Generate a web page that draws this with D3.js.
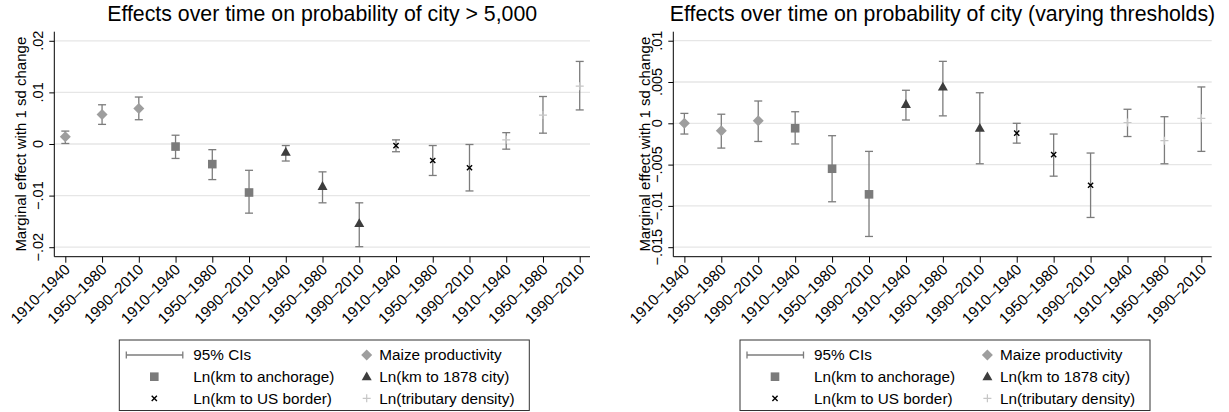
<!DOCTYPE html>
<html>
<head>
<meta charset="utf-8">
<script src="https://cdn.jsdelivr.net/npm/d3@7"></script>
<style>
  body { margin: 0; background: #fff; }
  svg { display: block; font-family: "Liberation Sans", Arial, sans-serif; }
</style>
</head>
<body>
<svg id="chart" width="1229" height="412"></svg>
<script>
// periods repeated for each of the five variables
const periods = ["1910–1940", "1950–1980", "1990–2010"];
const variables = ["Maize productivity", "Ln(km to anchorage)", "Ln(km to 1878 city)",
  "Ln(km to US border)", "Ln(tributary density)"];

// left panel: city > 5,000
const leftEst = [0.0014, 0.0057, 0.0069, -0.0005, -0.0039, -0.0094, -0.0016, -0.0082, -0.0154,
  -0.0003, -0.0032, -0.0046, 0.0008, 0.0056, 0.0112];
const leftLo = [0.0001, 0.0038, 0.0047, -0.0028, -0.0069, -0.0134, -0.0033, -0.0114, -0.0199,
  -0.0015, -0.0061, -0.0091, -0.0010, 0.0021, 0.0066];
const leftHi = [0.0025, 0.0076, 0.0091, 0.0017, -0.0011, -0.0051, -0.0003, -0.0054, -0.0114,
  0.0008, -0.0003, -0.0001, 0.0022, 0.0092, 0.0160];
const leftTicks = [-0.02, -0.01, 0, 0.01, 0.02];
const leftTickLabels = ["−.02", "−.01", "0", ".01", ".02"];

// right panel: varying thresholds
const rightEst = [0.0000, -0.0009, 0.0003, -0.0006, -0.0055, -0.0086, 0.0023, 0.0044, -0.0006,
  -0.0012, -0.0038, -0.0075, 0.0001, -0.0021, 0.0006];
const rightLo = [-0.0013, -0.0030, -0.0022, -0.0025, -0.0095, -0.0137, 0.0004, 0.0009, -0.0049,
  -0.0024, -0.0064, -0.0114, -0.0016, -0.0049, -0.0034];
const rightHi = [0.0012, 0.0011, 0.0027, 0.0014, -0.0015, -0.0034, 0.0040, 0.0075, 0.0037,
  0.0000, -0.0013, -0.0036, 0.0017, 0.0008, 0.0044];
const rightTicks = [-0.015, -0.01, -0.005, 0, 0.005, 0.01];
const rightTickLabels = ["−.015", "−.01", "−.005", "0", ".005", ".01"];

const ciColor = "#7c7c7c";
const markerStyle = [
  { shape: "diamond", fill: "#9e9e9e" },
  { shape: "square", fill: "#7b7b7b" },
  { shape: "triangle", fill: "#3d3d3d" },
  { shape: "x", stroke: "#000" },
  { shape: "plus", stroke: "#c6c6c6" }
];

const svg = d3.select("#chart");

// draw a marker at the origin of g
const drawMarker = (g, style) => {
  if (style.shape === "diamond") {
    g.append("path").attr("d", "M0,-5.5L5.5,0L0,5.5L-5.5,0Z").attr("fill", style.fill);
  } else if (style.shape === "square") {
    g.append("rect").attr("x", -4.3).attr("y", -4.3).attr("width", 8.6).attr("height", 8.6)
      .attr("fill", style.fill);
  } else if (style.shape === "triangle") {
    g.append("path").attr("d", "M0,-5.2L5,3.6L-5,3.6Z").attr("fill", style.fill);
  } else if (style.shape === "x") {
    g.append("path").attr("d", "M-2.6,-2.6L2.6,2.6M-2.6,2.6L2.6,-2.6")
      .attr("stroke", style.stroke).attr("stroke-width", 1.4);
  } else {
    g.append("path").attr("d", "M-4,0L4,0M0,-4L0,4")
      .attr("stroke", style.stroke).attr("stroke-width", 1.2);
  }
};

const drawPanel = (cfg) => {
  const top = 31.7, bottom = 256.7;
  const x = d3.scaleLinear().domain([0.7, 15.28]).range([cfg.x0, cfg.x1]);
  const y = d3.scaleLinear().domain(cfg.yDomain).range([bottom, top]);
  const g = svg.append("g");
  const idx = d3.range(15);

  // title
  g.append("text")
    .attr("x", (cfg.x0 + cfg.x1) / 2).attr("y", 20.5)
    .attr("text-anchor", "middle").attr("font-size", 21.3)
    .text(cfg.title);

  // grid lines
  g.selectAll(".grid").data(cfg.ticks).join("line")
    .attr("class", "grid")
    .attr("x1", cfg.x0).attr("x2", cfg.x1)
    .attr("y1", d => y(d)).attr("y2", d => y(d))
    .attr("stroke", "#e6e6e6").attr("stroke-width", 1.3);

  // y axis
  const yAxis = g.append("g").attr("transform", `translate(${cfg.x0},0)`)
    .call(d3.axisLeft(y).tickValues(cfg.ticks).tickSize(5).tickFormat(""));
  yAxis.select(".domain").attr("d", `M0,${top}V${bottom}`).attr("stroke", "#000");
  yAxis.selectAll(".tick line").attr("stroke", "#000");
  g.selectAll(".ylab").data(cfg.ticks).join("text")
    .attr("class", "ylab")
    .attr("transform", d => `translate(${cfg.x0 - 16.5},${y(d)}) rotate(-90)`)
    .attr("text-anchor", "middle").attr("dy", "0.35em").attr("font-size", 14.5)
    .text((d, i) => cfg.tickLabels[i]);

  g.append("text")
    .attr("transform", `translate(${cfg.titleX},${(top + bottom) / 2}) rotate(-90)`)
    .attr("text-anchor", "middle").attr("dy", "0.35em").attr("font-size", 15)
    .text("Marginal effect with 1 sd change");

  // x axis
  const xAxis = g.append("g").attr("transform", `translate(0,${bottom})`)
    .call(d3.axisBottom(x).tickValues(idx.map(i => i + 1)).tickSize(6).tickFormat(""));
  xAxis.select(".domain").attr("d", `M${cfg.x0},0H${cfg.x1}`).attr("stroke", "#000");
  xAxis.selectAll(".tick line").attr("stroke", "#000");
  g.selectAll(".xlab").data(idx).join("text")
    .attr("class", "xlab")
    .attr("transform", i => `translate(${x(i + 1) + 2},${bottom + 10}) rotate(-45)`)
    .attr("text-anchor", "end").attr("dy", "0.35em").attr("font-size", 15.3)
    .text(i => periods[i % 3]);

  // confidence intervals
  const ci = g.selectAll(".ci").data(idx).join("g").attr("class", "ci")
    .attr("stroke", ciColor).attr("stroke-width", 1.3);
  ci.append("line")
    .attr("x1", i => x(i + 1)).attr("x2", i => x(i + 1))
    .attr("y1", i => y(cfg.lo[i])).attr("y2", i => y(cfg.hi[i]));
  ci.append("line")
    .attr("x1", i => x(i + 1) - 4).attr("x2", i => x(i + 1) + 4)
    .attr("y1", i => y(cfg.lo[i])).attr("y2", i => y(cfg.lo[i]));
  ci.append("line")
    .attr("x1", i => x(i + 1) - 4).attr("x2", i => x(i + 1) + 4)
    .attr("y1", i => y(cfg.hi[i])).attr("y2", i => y(cfg.hi[i]));

  // point estimates
  idx.forEach(i => {
    const m = g.append("g").attr("transform", `translate(${x(i + 1)},${y(cfg.est[i])})`);
    drawMarker(m, markerStyle[Math.floor(i / 3)]);
  });

  // legend
  const lx = cfg.legendX, ly = 340;
  const lg = g.append("g").attr("transform", `translate(${lx},${ly})`);
  lg.append("rect").attr("x", 0).attr("y", 0).attr("width", 410).attr("height", 70.5)
    .attr("fill", "none").attr("stroke", "#333").attr("stroke-width", 1);
  const rowY = [15, 36.7, 58.3];
  const ciLeg = lg.append("g").attr("stroke", ciColor).attr("stroke-width", 1.3);
  ciLeg.append("line").attr("x1", 7).attr("x2", 63.5).attr("y1", rowY[0]).attr("y2", rowY[0]);
  ciLeg.append("line").attr("x1", 7).attr("x2", 7).attr("y1", rowY[0] - 3.5).attr("y2", rowY[0] + 3.5);
  ciLeg.append("line").attr("x1", 63.5).attr("x2", 63.5).attr("y1", rowY[0] - 3.5).attr("y2", rowY[0] + 3.5);
  const items = [
    { label: "95% CIs", col: 0, row: 0 },
    { label: variables[0], col: 1, row: 0, m: 0 },
    { label: variables[1], col: 0, row: 1, m: 1 },
    { label: variables[2], col: 1, row: 1, m: 2 },
    { label: variables[3], col: 0, row: 2, m: 3 },
    { label: variables[4], col: 1, row: 2, m: 4 }
  ];
  const colMarkX = [35, 247.4], colTextX = [74, 260];
  items.forEach(it => {
    if (it.m !== undefined) {
      const m = lg.append("g").attr("transform", `translate(${colMarkX[it.col]},${rowY[it.row]})`);
      drawMarker(m, markerStyle[it.m]);
    }
    lg.append("text").attr("x", colTextX[it.col]).attr("y", rowY[it.row])
      .attr("dy", "0.35em").attr("font-size", 15.3).text(it.label);
  });
};

drawPanel({
  x0: 54.3, x1: 590, yDomain: [-0.02184, 0.02176], ticks: leftTicks, tickLabels: leftTickLabels,
  est: leftEst, lo: leftLo, hi: leftHi, titleX: 21, legendX: 119.3,
  title: "Effects over time on probability of city > 5,000"
});
drawPanel({
  x0: 673.3, x1: 1211.7, yDomain: [-0.01615, 0.01109], ticks: rightTicks, tickLabels: rightTickLabels,
  est: rightEst, lo: rightLo, hi: rightHi, titleX: 645, legendX: 740,
  title: "Effects over time on probability of city (varying thresholds)"
});
</script>
</body>
</html>
